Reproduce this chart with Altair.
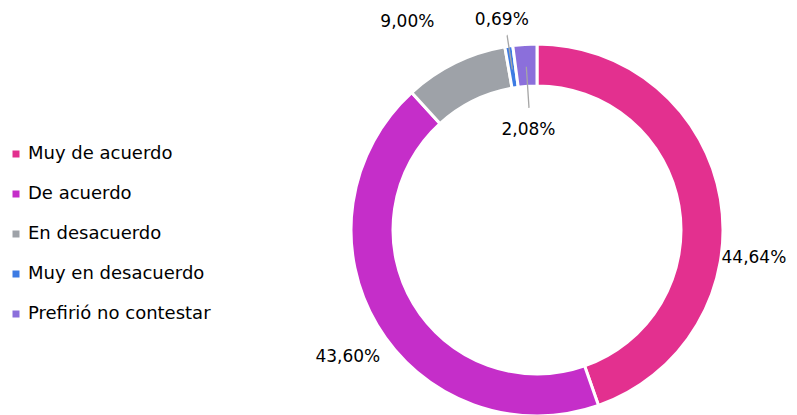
import altair as alt
import pandas as pd

categories = ["Muy de acuerdo", "De acuerdo", "En desacuerdo", "Muy en desacuerdo", "Prefirió no contestar"]
values = [44.64, 43.60, 9.00, 0.69, 2.08]
labels = ["44,64%", "43,60%", "9,00%", "0,69%", "2,08%"]
colors = ["#E3308F", "#C52EC9", "#9EA2A8", "#3D7BE3", "#8B6FDB"]

df = pd.DataFrame({"cat": categories, "val": values, "label": labels})
df["end"] = df["val"].cumsum()
df["start"] = df["end"] - df["val"]
df["mid"] = (df["start"] + df["end"]) / 2
df["mid2"] = df["mid"] + 0.0001

total = float(sum(values))
CX, CY = 529, 222
theta_scale = alt.Scale(domain=[0, total])
color_scale = alt.Scale(domain=categories, range=colors)

base = alt.Chart(df)

donut = base.mark_arc(radius=186, radius2=144, stroke="white", strokeWidth=3).encode(
    theta=alt.Theta("start:Q", scale=theta_scale),
    theta2="end:Q",
    color=alt.Color(
        "cat:N",
        scale=color_scale,
        sort=categories,
        legend=alt.Legend(
            title=None,
            orient="none",
            legendX=-1,
            legendY=137,
            symbolType="square",
            symbolSize=49,
            symbolStrokeWidth=0,
            labelFontSize=18,
            labelFont="DejaVu Sans",
            labelColor="#000000",
            labelOffset=3,
            rowPadding=22,
            labelLimit=400,
        ),
    ),
    x=alt.value(CX),
    y=alt.value(CY),
)

def leader(cat, r_in, r_out):
    return base.transform_filter(alt.datum.cat == cat).mark_arc(
        radius=r_out, radius2=r_in, stroke="#A6A6A6", strokeWidth=1.3, fill="#A6A6A6"
    ).encode(
        theta=alt.Theta("mid:Q", scale=theta_scale),
        theta2="mid2:Q",
        x=alt.value(CX),
        y=alt.value(CY),
    )

def label(cat, r, dx=0, dy=0):
    return base.transform_filter(alt.datum.cat == cat).mark_text(
        radius=r, dx=dx, dy=dy, fontSize=17, font="DejaVu Sans", color="#000000",
        align="center", baseline="middle"
    ).encode(
        theta=alt.Theta("mid:Q", scale=theta_scale),
        text="label:N",
        x=alt.value(CX),
        y=alt.value(CY),
    )

chart = alt.layer(
    donut,
    leader("Muy en desacuerdo", 163, 197),
    leader("Prefirió no contestar", 123, 163),
    label("Muy de acuerdo", 218, 2, 65),
    label("De acuerdo", 225, 4, 12),
    label("En desacuerdo", 235, -26, 3),
    label("Muy en desacuerdo", 212, -3, 0),
    label("Prefirió no contestar", 100, -2, 0),
).properties(
    width=781, height=407, padding=0, autosize="none"
).configure_view(stroke=None)

chart.save("out.html", embed_options={"renderer": "svg", "actions": False})
